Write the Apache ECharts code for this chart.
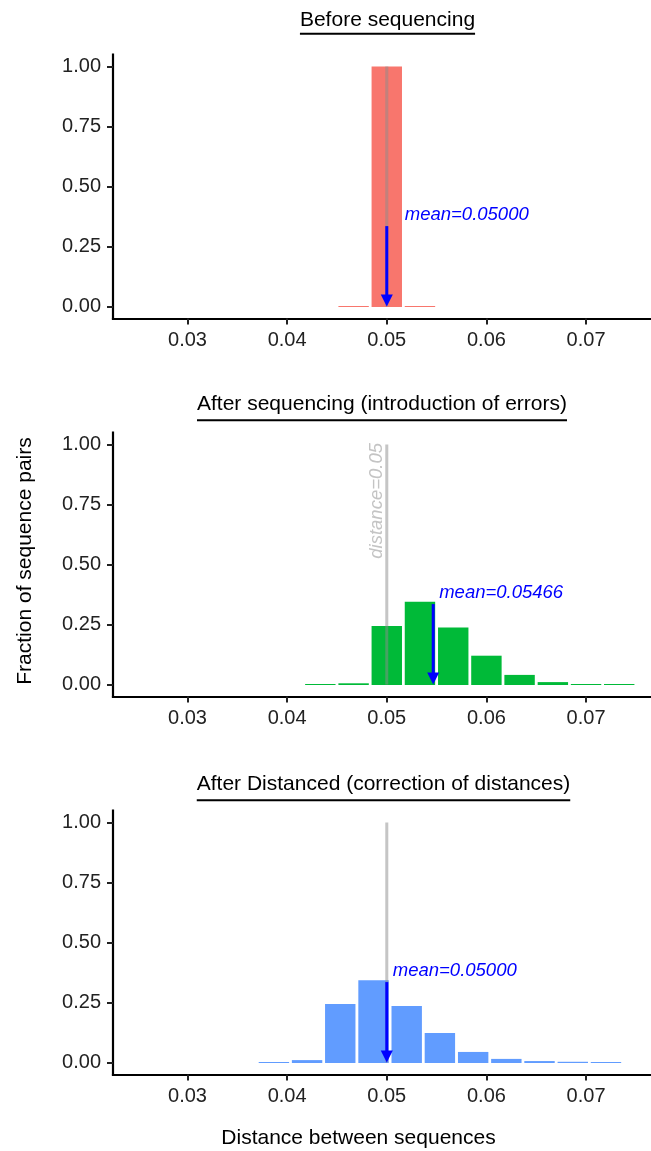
<!DOCTYPE html>
<html>
<head>
<meta charset="utf-8">
<script src="https://cdn.jsdelivr.net/npm/echarts@6/dist/echarts.min.js"></script>
<style>
  html, body { margin: 0; padding: 0; background: #ffffff; }
  #chart { width: 651px; height: 1151px; }
</style>
</head>
<body>
<div id="chart"></div>
<script>
// Histogram bin centres and fraction of sequence pairs for each stage
const beforeBins = [0.04667, 0.05, 0.05333];
const beforeFrac = [0, 1.0, 0];

const seqBins = [0.04333, 0.04667, 0.05, 0.05333, 0.05667, 0.06, 0.06333, 0.06667, 0.07, 0.07333];
const seqFrac = [0.002, 0.005, 0.244, 0.345, 0.237, 0.12, 0.04, 0.01, 0.002, 0.002];

const corrBins = [0.03867, 0.042, 0.04533, 0.04867, 0.052, 0.05533, 0.05867, 0.062, 0.06533, 0.06867, 0.072];
const corrFrac = [0.002, 0.01, 0.244, 0.343, 0.235, 0.123, 0.044, 0.015, 0.006, 0.003, 0.002];

const binWidth = 1 / 300;
const means = [0.05, 0.05466, 0.05];
const trueDistance = 0.05;

const panelTitles = [
  'Before sequencing',
  'After sequencing (introduction of errors)',
  'After Distanced (correction of distances)'
];
const xTicks = [0.03, 0.04, 0.05, 0.06, 0.07];
const yTicks = [0, 0.25, 0.5, 0.75, 1];
const xTitle = 'Distance between sequences';
const yTitle = 'Fraction of sequence pairs';

// annotation heights in data units
const arrowFrom = 0.335;
const meanLabelLevel = 0.383;

const FONT = '"Liberation Sans", Arial, Helvetica, sans-serif';
const colors = ['#F8766D', '#00BA38', '#619CFF'];
const panelBins = [beforeBins, seqBins, corrBins];
const panelFrac = [beforeFrac, seqFrac, corrFrac];

// layout of the three stacked panels
const gridLeft = 113, gridWidth = 538, gridHeight = 264;
const gridTops = [54.5, 432.5, 810.5];
const titleCenters = [387.5, 382, 383.5];
const titleY = [20.5, 404.5, 784.5];
const underlineY = [33.7, 420.3, 800.3];
const meanLabelDx = [18, 6, 6];

function barRenderer(color) {
  return function (params, api) {
    const c = api.value(0), v = api.value(1);
    const pTop = api.coord([c - binWidth / 2, v]);
    const pBase = api.coord([c + binWidth / 2, 0]);
    const gap = 1.4;
    const base = Math.round(pBase[1]);
    let h = base - pTop[1];
    if (h < 1) h = 1;
    return {
      type: 'rect',
      shape: { x: pTop[0] + gap, y: base - h, width: pBase[0] - pTop[0] - 2 * gap, height: h },
      style: { fill: color }
    };
  };
}

function refLineRenderer(params, api) {
  const x = api.value(0);
  const p0 = api.coord([x, 0]);
  const p1 = api.coord([x, 1]);
  return {
    type: 'line',
    shape: { x1: p0[0], y1: p0[1], x2: p1[0], y2: p1[1] },
    style: { stroke: 'rgba(140,140,140,0.5)', lineWidth: 3 }
  };
}

function arrowRenderer(params, api) {
  const x = api.value(0);
  const from = api.coord([x, api.value(1)]);
  const tip = api.coord([x, 0]);
  const head = 12, half = 6;
  return {
    type: 'group',
    children: [
      {
        type: 'line',
        shape: { x1: from[0], y1: from[1], x2: tip[0], y2: tip[1] - head + 1 },
        style: { stroke: '#0000FF', lineWidth: 3 }
      },
      {
        type: 'polygon',
        shape: { points: [[tip[0] - half, tip[1] - head], [tip[0] + half, tip[1] - head], [tip[0], tip[1]]] },
        style: { fill: '#0000FF' }
      }
    ]
  };
}

function meanLabelRenderer(dx) {
  return function (params, api) {
    const p = api.coord([api.value(0), api.value(1)]);
    return {
      type: 'text',
      x: p[0] + dx,
      y: p[1],
      style: {
        text: 'mean=' + api.value(0).toFixed(5),
        fill: '#0000FF',
        fontFamily: FONT,
        fontStyle: 'italic',
        fontSize: 18.5,
        align: 'left',
        verticalAlign: 'middle'
      }
    };
  };
}

function distanceLabelRenderer(params, api) {
  const p = api.coord([api.value(0), 1]);
  return {
    type: 'text',
    x: p[0] - 0.5,
    y: p[1] - 1.5,
    rotation: Math.PI / 2,
    style: {
      text: 'distance=' + api.value(0),
      fill: '#c4c4c4',
      fontFamily: FONT,
      fontStyle: 'italic',
      fontSize: 18.5,
      align: 'right',
      verticalAlign: 'bottom'
    }
  };
}

const grids = [], xAxes = [], yAxes = [], series = [];
for (let i = 0; i < 3; i++) {
  grids.push({ left: gridLeft, top: gridTops[i], width: gridWidth, height: gridHeight });
  xAxes.push({
    type: 'value', gridIndex: i, min: 0.02252, max: 0.07652,
    axisLine: { show: true, onZero: false, lineStyle: { color: '#000', width: 2.2, cap: 'square' } },
    axisTick: { show: true, customValues: xTicks, length: 6, lineStyle: { color: '#222', width: 2 } },
    axisLabel: {
      customValues: xTicks, formatter: v => v.toFixed(2),
      fontFamily: FONT, fontSize: 20, color: '#222', margin: 12
    },
    splitLine: { show: false }
  });
  yAxes.push({
    type: 'value', gridIndex: i, min: -0.05, max: 1.05,
    axisLine: { show: true, onZero: false, lineStyle: { color: '#000', width: 2.2, cap: 'square' } },
    axisTick: { show: true, customValues: yTicks, length: 6, lineStyle: { color: '#222', width: 2 } },
    axisLabel: {
      customValues: yTicks, formatter: v => v.toFixed(2),
      fontFamily: FONT, fontSize: 20, color: '#222', margin: 12
    },
    splitLine: { show: false }
  });
  series.push({
    type: 'custom', xAxisIndex: i, yAxisIndex: i, z: 2,
    renderItem: barRenderer(colors[i]),
    encode: { x: 0, y: 1 },
    data: panelBins[i].map((c, k) => [c, panelFrac[i][k]])
  });
  series.push({
    type: 'custom', xAxisIndex: i, yAxisIndex: i, z: 3,
    renderItem: refLineRenderer,
    encode: { x: 0, y: 1 },
    data: [[trueDistance, 1]]
  });
  if (i === 1) {
    series.push({
      type: 'custom', xAxisIndex: i, yAxisIndex: i, z: 3,
      renderItem: distanceLabelRenderer,
      encode: { x: 0, y: 1 },
      data: [[trueDistance, 1]]
    });
  }
  series.push({
    type: 'custom', xAxisIndex: i, yAxisIndex: i, z: 4,
    renderItem: arrowRenderer,
    encode: { x: 0, y: 1 },
    data: [[means[i], arrowFrom]]
  });
  series.push({
    type: 'custom', xAxisIndex: i, yAxisIndex: i, z: 4,
    renderItem: meanLabelRenderer(meanLabelDx[i]),
    encode: { x: 0, y: 1 },
    data: [[means[i], meanLabelLevel]]
  });
}

// panel titles with underline, plus shared axis titles
const measureCtx = document.createElement('canvas').getContext('2d');
const titleFontSize = 21;
measureCtx.font = titleFontSize + 'px ' + FONT;
const graphics = [];
for (let i = 0; i < 3; i++) {
  const w = measureCtx.measureText(panelTitles[i]).width;
  graphics.push({
    type: 'text', x: titleCenters[i], y: titleY[i],
    style: {
      text: panelTitles[i], fill: '#000', fontFamily: FONT, fontSize: titleFontSize,
      align: 'center', verticalAlign: 'middle'
    }
  });
  graphics.push({
    type: 'line',
    shape: { x1: titleCenters[i] - w / 2, y1: underlineY[i], x2: titleCenters[i] + w / 2, y2: underlineY[i] },
    style: { stroke: '#000', lineWidth: 2 }
  });
}
graphics.push({
  type: 'text', x: 358.5, y: 1138,
  style: { text: xTitle, fill: '#000', fontFamily: FONT, fontSize: 21, align: 'center', verticalAlign: 'middle' }
});
graphics.push({
  type: 'text', x: 25, y: 561, rotation: Math.PI / 2,
  style: { text: yTitle, fill: '#000', fontFamily: FONT, fontSize: 21, align: 'center', verticalAlign: 'middle' }
});

const chart = echarts.init(document.getElementById('chart'), null, { renderer: 'canvas' });
chart.setOption({
  animation: false,
  backgroundColor: '#ffffff',
  grid: grids,
  xAxis: xAxes,
  yAxis: yAxes,
  series: series,
  graphic: graphics
});
</script>
</body>
</html>
